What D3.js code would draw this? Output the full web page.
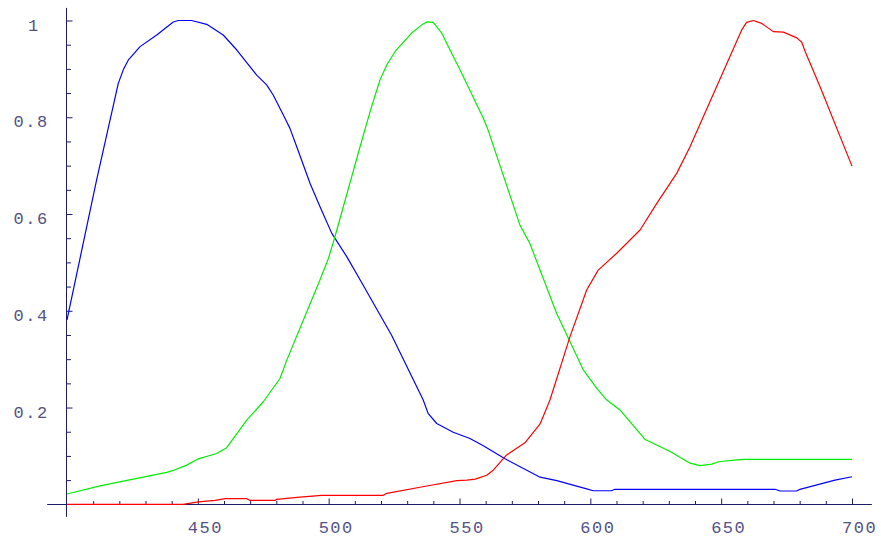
<!DOCTYPE html>
<html>
<head>
<meta charset="utf-8">
<script src="https://cdn.jsdelivr.net/npm/d3@7"></script>
<style>
  body { margin: 0; background: #fff; }
  .tick-label { font-family: 'Liberation Mono', monospace; font-size: 17px; letter-spacing: 1.5px; fill: #525286; }
</style>
</head>
<body>
<div id="graph"></div>
<script>
// wavelength (nm) / relative response
const blueNm = [400, 411.3, 419.6, 421.5, 423.4, 427.9, 434.3, 440.6, 442.5, 447.6, 453.4, 459.7, 464.9, 472.5, 476.3, 478.8, 483.3, 485.2, 487.8, 492.9, 496.7, 501.2, 506.9, 512, 524, 536.1, 538, 541.3, 547.6, 554, 559.1, 567.4, 580.8, 587.2, 598.6, 601.1, 608.1, 609.4, 670.6, 672.5, 678.9, 680.1, 693.5, 700];
const blueVal = [0.381, 0.67, 0.87, 0.898, 0.918, 0.946, 0.97, 0.997, 1.0, 1.0, 0.992, 0.97, 0.939, 0.887, 0.867, 0.846, 0.798, 0.777, 0.739, 0.663, 0.615, 0.56, 0.512, 0.464, 0.35, 0.216, 0.188, 0.167, 0.149, 0.136, 0.121, 0.094, 0.056, 0.049, 0.032, 0.028, 0.028, 0.031, 0.031, 0.0275, 0.0275, 0.031, 0.05, 0.057];

const greenNm = [400, 412.6, 425.3, 438.1, 440.6, 445.7, 450.2, 457.2, 461, 468.7, 475, 481.4, 484, 496.7, 499.9, 502.4, 512, 515.8, 519.6, 522.2, 525.4, 531.7, 535.6, 537.5, 540, 543.2, 546.4, 550.2, 559.1, 560.9, 573.1, 576.9, 587.1, 597.3, 602.4, 606.2, 611.3, 620.9, 630.5, 638.1, 641.9, 646.4, 649, 656, 658.5, 700];
const greenVal = [0.0213, 0.038, 0.052, 0.066, 0.07, 0.081, 0.094, 0.105, 0.117, 0.174, 0.212, 0.26, 0.298, 0.464, 0.508, 0.553, 0.739, 0.811, 0.877, 0.908, 0.936, 0.974, 0.991, 0.997, 0.996, 0.974, 0.939, 0.898, 0.798, 0.774, 0.577, 0.539, 0.395, 0.278, 0.24, 0.216, 0.195, 0.134, 0.109, 0.085, 0.08, 0.083, 0.088, 0.092, 0.093, 0.093];

const redNm = [400, 444.4, 450.2, 456.6, 460.4, 468.7, 470, 479.5, 480.1, 489, 497.3, 520.9, 522.2, 537.5, 549, 552.8, 556, 560.4, 563, 568, 575, 580.8, 584.6, 592.2, 598.6, 603, 610.1, 619, 625.4, 633, 638.1, 657.8, 659.7, 662.3, 665.5, 669.9, 673.8, 678.9, 680.8, 682.1, 687.8, 700];
const redVal = [0, 0, 0.005, 0.008, 0.0116, 0.0116, 0.008, 0.008, 0.0103, 0.015, 0.0186, 0.0186, 0.0227, 0.0378, 0.0488, 0.05, 0.052, 0.06, 0.071, 0.102, 0.127, 0.166, 0.216, 0.346, 0.443, 0.484, 0.519, 0.567, 0.622, 0.684, 0.739, 0.98, 0.996, 1.0, 0.994, 0.977, 0.976, 0.964, 0.955, 0.936, 0.863, 0.699];

const xMajor = [450, 500, 550, 600, 650, 700];
const xMinor = d3.range(410, 701, 10).filter((d) => d % 50 !== 0);
const yMajor = [0.2, 0.4, 0.6, 0.8, 1];
const yMinor = [0.05, 0.1, 0.15, 0.25, 0.3, 0.35, 0.45, 0.5, 0.55, 0.65, 0.7, 0.75, 0.85, 0.9, 0.95];

const width = 881;
const height = 540;
const axisColor = '#1c1c6a';

const xScale = d3.scaleLinear().domain([400, 700]).range([67, 852]);
const yScale = d3.scaleLinear().domain([0, 1]).range([504.3, 20.5]);

const svg = d3.select('#graph')
  .append('svg')
  .attr('width', width)
  .attr('height', height)
  .style('display', 'block');

svg.append('rect')
  .attr('width', width)
  .attr('height', height)
  .attr('fill', '#fff');

// axis lines (a little past the data range, like the original)
const x0 = Math.round(xScale(400)) - 0.5;
const y0 = Math.round(yScale(0)) + 0.5;

svg.append('line')
  .attr('x1', xScale(392.4)).attr('x2', xScale(707.6))
  .attr('y1', y0).attr('y2', y0)
  .attr('stroke', axisColor);

svg.append('line')
  .attr('x1', x0).attr('x2', x0)
  .attr('y1', yScale(-0.026)).attr('y2', yScale(1.026))
  .attr('stroke', axisColor);

// ticks
const drawXTicks = (values, size) => {
  const g = svg.append('g')
    .attr('transform', `translate(0, ${y0})`)
    .call(d3.axisBottom(xScale).tickValues(values).tickSize(-size).tickFormat(''));
  g.select('.domain').remove();
  g.selectAll('line').attr('stroke', axisColor);
  return g;
};

const drawYTicks = (values, size) => {
  const g = svg.append('g')
    .attr('transform', `translate(${x0}, 0)`)
    .call(d3.axisLeft(yScale).tickValues(values).tickSize(-size).tickFormat(''));
  g.select('.domain').remove();
  g.selectAll('line').attr('stroke', axisColor);
  return g;
};

drawXTicks(xMinor, 3.5);
drawXTicks(xMajor, 6);
drawYTicks(yMinor, 4.5);
drawYTicks(yMajor, 6);

// tick labels
svg.append('g')
  .selectAll('text')
  .data(xMajor)
  .enter()
  .append('text')
  .attr('class', 'tick-label')
  .attr('x', (d) => xScale(d) - 10)
  .attr('y', 533.3)
  .text((d) => d);

svg.append('g')
  .selectAll('text')
  .data(yMajor)
  .enter()
  .append('text')
  .attr('class', 'tick-label')
  .attr('text-anchor', 'end')
  .attr('x', (d) => (d === 1 ? 39.6 : 48.6))
  .attr('y', (d) => yScale(d) + 10)
  .text((d) => (d === 1 ? '1' : d3.format('.1f')(d)));

// curves
const drawLine = (nm, val, color) => {
  const line = d3.line()
    .x((d) => xScale(d[0]))
    .y((d) => yScale(d[1]));

  svg.append('path')
    .datum(d3.zip(nm, val))
    .attr('fill', 'none')
    .attr('stroke', color)
    .attr('stroke-width', 1.2)
    .attr('stroke-linejoin', 'round')
    .attr('d', line);
};

drawLine(blueNm, blueVal, '#0000ff');
drawLine(greenNm, greenVal, '#00ee00');
drawLine(redNm, redVal, '#ff0000');
</script>
</body>
</html>
